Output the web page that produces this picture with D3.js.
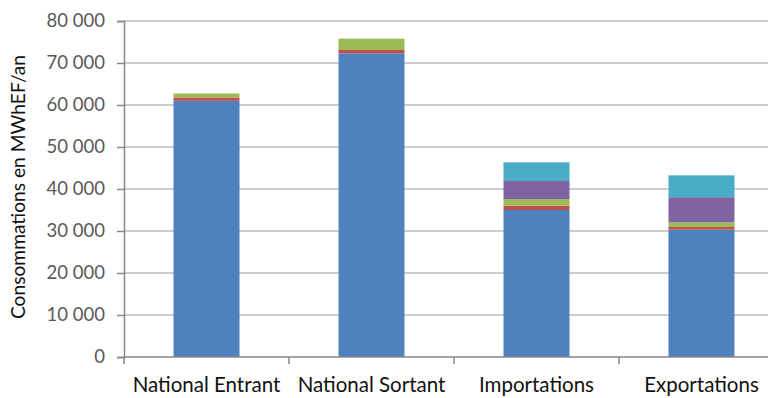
<!DOCTYPE html>
<html>
<head>
<meta charset="utf-8">
<script src="https://cdn.jsdelivr.net/npm/d3@7"></script>
<style>
  html, body { margin: 0; padding: 0; background: #ffffff; }
  svg { display: block; font-family: Lato, "Open Sans", sans-serif; }
</style>
</head>
<body>
<svg id="chart" width="768" height="398"></svg>
<script>
// Categories and stacked series (MWhEF/an)
const categories = ["National Entrant", "National Sortant", "Importations", "Exportations"];
const seriesNames = ["S1", "S2", "S3", "S4", "S5"];
const s1 = [61000, 72300, 35000, 30300];
const s2 = [800, 800, 1000, 650];
const s3 = [950, 2700, 1600, 1100];
const s4 = [0, 0, 4300, 6000];
const s5 = [0, 0, 4450, 5200];
const colors = ["#4F81BD", "#C0504D", "#9BBB59", "#8064A2", "#4BACC6"];
const yTicks = [0, 10000, 20000, 30000, 40000, 50000, 60000, 70000, 80000];

const rows = categories.map((c, i) => ({
  cat: c, S1: s1[i], S2: s2[i], S3: s3[i], S4: s4[i], S5: s5[i]
}));

const svg = d3.select("#chart");
const plotLeft = 124, plotRight = 784, plotTop = 21, plotBottom = 357;

const x = d3.scaleBand().domain(categories).range([plotLeft, plotRight]).paddingInner(0.6).paddingOuter(0.3);
const y = d3.scaleLinear().domain([0, 80000]).range([plotBottom, plotTop]);

const fr = d3.formatLocale({ decimal: ",", thousands: "\u2009", grouping: [3], currency: ["", " €"] });
const fmt = v => fr.format(",")(v).replace(/\u2009/g, " ");

// gridlines
svg.append("g")
  .selectAll("line")
  .data(yTicks.filter(t => t > 0))
  .join("line")
  .attr("x1", plotLeft).attr("x2", plotRight)
  .attr("y1", d => y(d)).attr("y2", d => y(d))
  .attr("stroke", "#bdbdbd").attr("stroke-width", 1.5);

// stacked bars
const stack = d3.stack().keys(seriesNames)(rows);
svg.append("g")
  .selectAll("g")
  .data(stack)
  .join("g")
  .attr("fill", (d, i) => colors[i])
  .selectAll("rect")
  .data(d => d)
  .join("rect")
  .attr("x", d => x(d.data.cat))
  .attr("width", x.bandwidth())
  .attr("y", d => y(d[1]))
  .attr("height", d => Math.max(0, y(d[0]) - y(d[1])));

// y axis
const yAxis = svg.append("g")
  .attr("transform", `translate(${plotLeft},0)`)
  .call(d3.axisLeft(y).tickValues(yTicks).tickSize(7).tickPadding(12).tickFormat(fmt));
yAxis.select(".domain").attr("stroke", "#868686").attr("stroke-width", 1.5);
yAxis.selectAll(".tick line").attr("stroke", "#868686").attr("stroke-width", 1.5);
yAxis.selectAll(".tick text").attr("fill", "#595959").attr("font-size", 18.5)
  .attr("font-family", "Lato, sans-serif");

// x axis
const step = x.step();
const boundaries = categories.map((c, i) => plotLeft + i * step);
const xg = svg.append("g");
xg.append("line")
  .attr("x1", plotLeft).attr("x2", plotRight)
  .attr("y1", plotBottom).attr("y2", plotBottom)
  .attr("stroke", "#868686").attr("stroke-width", 1.5);
xg.selectAll("line.tk")
  .data(boundaries)
  .join("line")
  .attr("class", "tk")
  .attr("x1", d => d).attr("x2", d => d)
  .attr("y1", plotBottom).attr("y2", plotBottom + 7)
  .attr("stroke", "#868686").attr("stroke-width", 1.5);
xg.selectAll("text")
  .data(categories)
  .join("text")
  .attr("x", d => x(d) + x.bandwidth() / 2)
  .attr("y", 392)
  .attr("text-anchor", "middle")
  .attr("fill", "#111111")
  .attr("font-size", 20.5)
  .text(d => d);

// y axis title
svg.append("text")
  .attr("transform", "translate(25,187) rotate(-90)")
  .attr("text-anchor", "middle")
  .attr("fill", "#111111")
  .attr("font-size", 19.2)
  .text("Consommations en MWhEF/an");
</script>
</body>
</html>
